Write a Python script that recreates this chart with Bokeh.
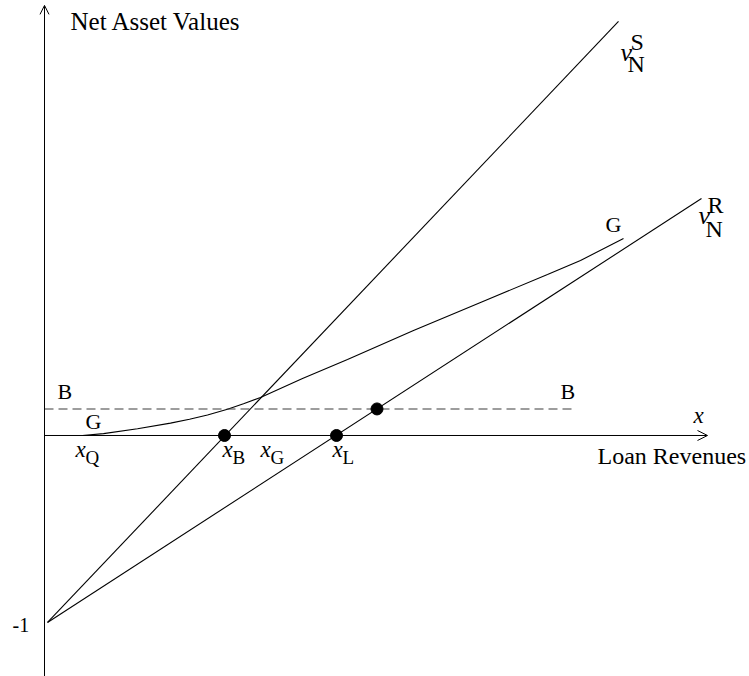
from bokeh.plotting import figure
from bokeh.models import Range1d, Arrow, OpenHead
from bokeh.core.properties import value
from bokeh.embed import file_html
from bokeh.resources import INLINE

# ---- data (revenue units on x, net asset value on y) ----
s_line_x = [0.03, 5.74]
s_line_y = [-1.0, 2.214]
r_line_x = [0.03, 6.57]
r_line_y = [-1.0, 1.267]
g_curve_x = [0.38, 0.59, 0.93, 1.26, 1.45, 1.63, 1.83, 1.99, 2.16, 2.58, 3.03, 3.69, 4.36, 5.03, 5.36, 5.79]
g_curve_y = [0.0, 0.010, 0.036, 0.066, 0.087, 0.110, 0.140, 0.170, 0.203, 0.305, 0.406, 0.561, 0.711, 0.861, 0.936, 1.053]
b_level_x = [0.0, 5.31]
b_level_y = [0.142, 0.142]
dot_x = [1.80, 2.92, 3.325]
dot_y = [0.0, 0.0, 0.142]
x_axis_end = 6.63
y_axis_span = [-1.289, 2.30]

SERIF = value("Liberation Serif")

p = figure(width=749, height=676, output_backend="svg", toolbar_location=None,
           x_range=Range1d(-0.44, 7.05), y_range=Range1d(-1.2888, 2.3262),
           min_border=0, outline_line_color=None)
p.axis.visible = False
p.grid.visible = False
p.background_fill_color = "white"

# axes with open arrowheads
p.add_layout(Arrow(end=OpenHead(size=9, line_width=1, line_color="black"),
                   x_start=0, y_start=y_axis_span[0], x_end=0, y_end=y_axis_span[1],
                   line_color="black", line_width=1))
p.add_layout(Arrow(end=OpenHead(size=10, line_width=1, line_color="black"),
                   x_start=0, y_start=0, x_end=x_axis_end, y_end=0,
                   line_color="black", line_width=1))

# lines
p.line(s_line_x, s_line_y, line_color="black", line_width=1.1)
p.line(r_line_x, r_line_y, line_color="black", line_width=1.1)
p.line(g_curve_x, g_curve_y, line_color="black", line_width=1.1)
p.line(b_level_x, b_level_y, line_color="#3c3c3c", line_width=1.1, line_dash="9 5")
p.scatter(dot_x, dot_y, size=12, color="black")

def txt(x, y, s, size, style="normal", align="left"):
    p.text([x], [y], text=[s], text_font=SERIF, text_font_size=f"{size}px",
           text_font_style=style, text_align=align, text_baseline="alphabetic",
           text_color="black")

# axis titles
txt(0.26, 2.214, "Net Asset Values", 25)
txt(5.53, -0.107, "Loan Revenues", 24)
txt(6.49, 0.107, "x", 23, "italic")
txt(-0.32, -1.016, "-1", 20)

# curve labels
txt(0.13, 0.2355, "B", 22)
txt(5.16, 0.2355, "B", 22)
txt(0.41, 0.075, "G", 22)
txt(5.61, 1.1286, "G", 22)

# v_N^S and v_N^R
txt(5.76, 2.048, "v", 26, "italic")
txt(5.86, 2.102, "S", 24)
txt(5.83, 1.984, "N", 24)
txt(6.54, 1.177, "v", 26, "italic")
txt(6.63, 1.230, "R", 24)
txt(6.61, 1.102, "N", 24)

# x-axis point labels
for xl, xs, sub in [(0.31, 0.41, "Q"), (1.78, 1.88, "B"), (2.16, 2.26, "G"), (2.88, 2.98, "L")]:
    txt(xl, -0.075, "x", 23, "italic")
    txt(xs, -0.117, sub, 19)

open("out.html", "w").write(file_html(p, INLINE))
